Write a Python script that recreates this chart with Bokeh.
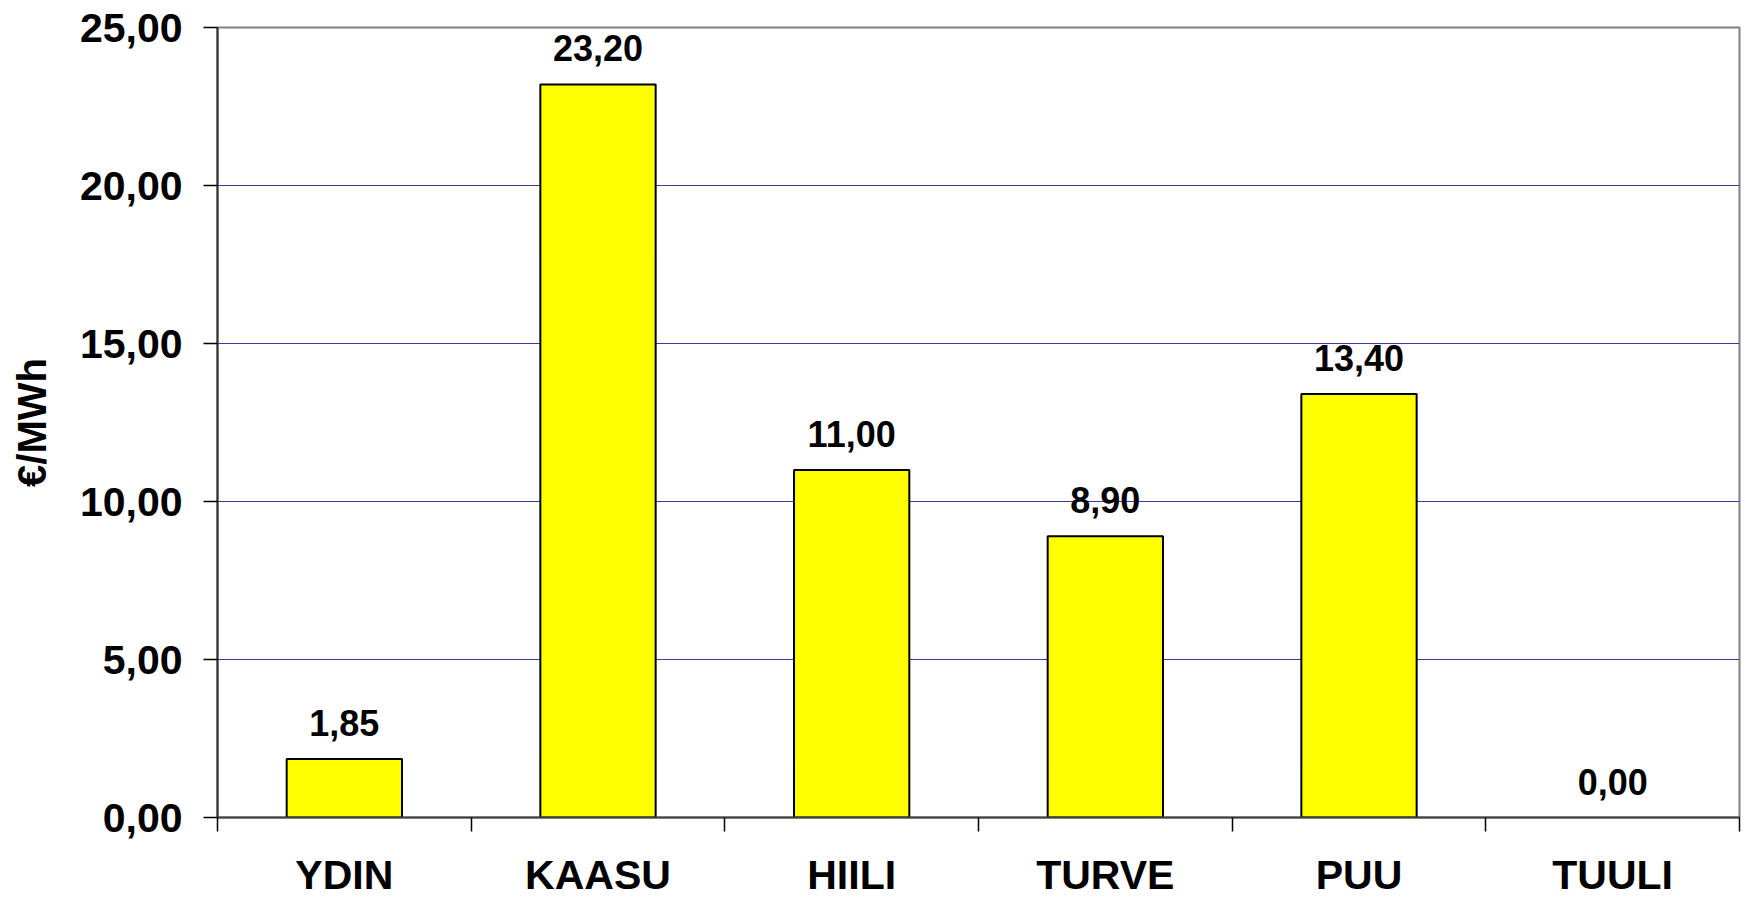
from bokeh.plotting import figure
from bokeh.models import (ColumnDataSource, FactorRange, Range1d, LinearAxis,
                          FixedTicker, LabelSet)
from bokeh.core.properties import value
from bokeh.embed import file_html
from bokeh.resources import INLINE

categories = ["YDIN", "KAASU", "HIILI", "TURVE", "PUU", "TUULI"]
values = [1.85, 23.20, 11.00, 8.90, 13.40, 0.00]
y_ticks = [0, 5, 10, 15, 20, 25]
y_title = "€/MWh"

def fi(v):
    return f"{v:.2f}".replace(".", ",")

FONT = "Liberation Sans"

src = ColumnDataSource(dict(cat=categories, val=values,
                            lab=[fi(v) for v in values],
                            la=[1.0 if v > 0 else 0.0 for v in values]))

p = figure(width=1745, height=900, output_backend="svg", toolbar_location=None,
           x_range=FactorRange(*categories, range_padding=0),
           y_range=Range1d(0, 25), x_axis_location=None,
           min_border_left=217, min_border_right=6, min_border_top=27,
           min_border_bottom=82)

p.vbar(x="cat", top="val", width=1/2.2, source=src, fill_color="#FFFF00",
       line_color="black", line_width=2, line_alpha="la")

labels = LabelSet(x="cat", y="val", text="lab", source=src, text_align="center",
                  text_baseline="alphabetic", y_offset=23,
                  text_font_size="36px", text_font_style="bold",
                  text_font=value(FONT), text_color="black")
p.add_layout(labels)

# x axis: ticks between categories (synthetic positions), labels at centres
xa = LinearAxis()
xa.ticker = FixedTicker(ticks=[i + 0.5 for i in range(len(categories))],
                        minor_ticks=list(range(len(categories) + 1)))
xa.major_label_overrides = {i + 0.5: c for i, c in enumerate(categories)}
xa.major_tick_out = 0
xa.major_tick_in = 0
xa.minor_tick_out = 14
xa.minor_tick_in = 0
xa.minor_tick_line_color = "black"
xa.minor_tick_line_width = 1.5
xa.axis_line_color = "#404040"
xa.axis_line_width = 2
xa.major_label_standoff = 20
xa.major_label_text_font = FONT
xa.major_label_text_font_style = "bold"
xa.major_label_text_font_size = "41px"
xa.major_label_text_color = "black"
p.add_layout(xa, "below")

ya = p.yaxis[0]
ya.ticker = FixedTicker(ticks=y_ticks, minor_ticks=[])
ya.major_label_overrides = {t: fi(t) for t in y_ticks}
ya.major_tick_out = 14
ya.major_tick_in = 0
ya.major_tick_line_color = "black"
ya.major_tick_line_width = 1.5
ya.axis_line_color = "#333333"
ya.axis_line_width = 2
ya.major_label_standoff = 21
ya.major_label_text_font = FONT
ya.major_label_text_font_style = "bold"
ya.major_label_text_font_size = "41px"
ya.major_label_text_color = "black"
ya.axis_label = y_title
ya.axis_label_text_font = FONT
ya.axis_label_text_font_style = "bold"
ya.axis_label_text_font_size = "40px"
ya.axis_label_text_color = "black"
ya.axis_label_standoff = 23

p.xgrid.visible = False
p.ygrid.grid_line_color = "#3c3ca0"
p.ygrid.grid_line_width = 1
p.outline_line_color = "#808080"
p.outline_line_width = 2
p.background_fill_color = "white"
p.border_fill_color = "white"

open("out.html", "w").write(file_html(p, INLINE))
